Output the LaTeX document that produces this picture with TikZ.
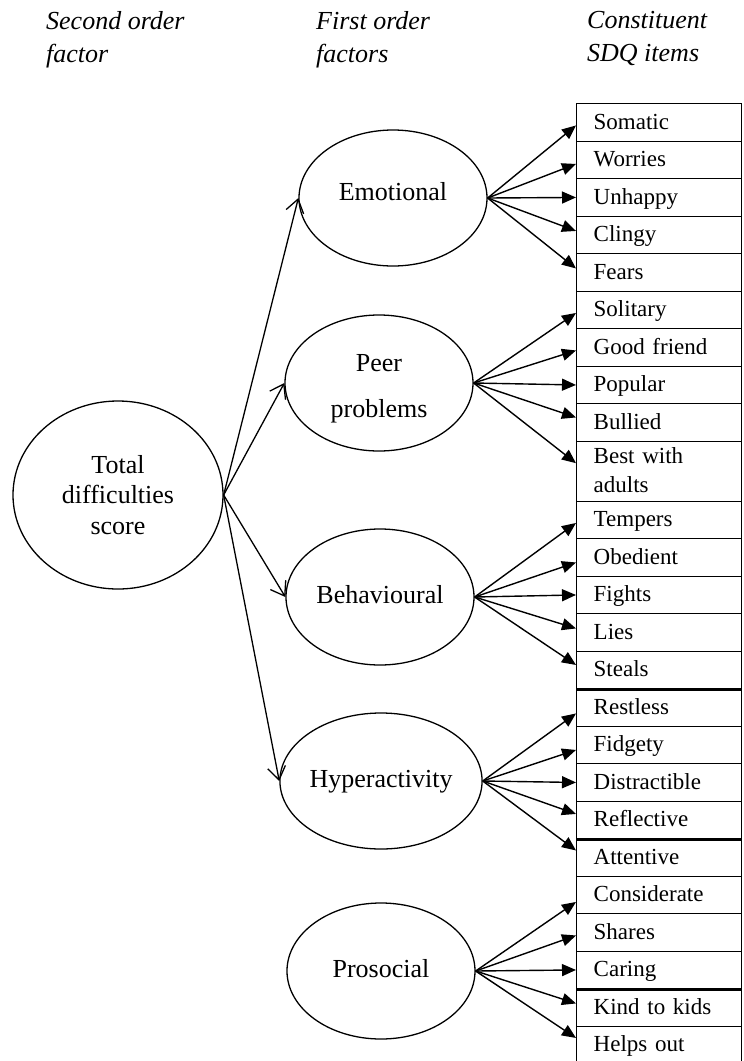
\documentclass[tikz,border=0pt]{standalone}
\usepackage{fontspec}
\setmainfont{Liberation Serif}
\usetikzlibrary{shapes.geometric,arrows.meta}

\tikzset{
  total/.style={draw, ellipse, line width=1.3pt, inner sep=0pt,
    minimum width=210pt, minimum height=188pt, align=center,
    font=\fontsize{26}{30.5}\selectfont},
  factor/.style={draw, ellipse, line width=1.3pt, inner sep=0pt,
    minimum width=188pt, minimum height=136pt, align=center,
    font=\fontsize{26}{46}\selectfont},
  oneline/.style={text height=18pt, text depth=6pt},
  itembox/.style={draw, rectangle, line width=1.4pt, anchor=north west,
    minimum width=165pt, minimum height=37.5pt, inner xsep=17pt, inner ysep=0pt,
    text width=131pt, align=left, text height=17pt, text depth=3pt,
    font=\fontsize{23}{29}\selectfont},
  heading/.style={anchor=north west, inner sep=0pt, align=left,
    font=\fontsize{26}{33}\selectfont\itshape},
  toplink/.style={line width=1.3pt, -{Straight Barb[length=13pt,width=18pt,line width=1.3pt]}},
  itemlink/.style={line width=1.4pt, -{Triangle[length=14pt,width=12pt]}},
  groupline/.style={line width=2.8pt}
}

\begin{document}
\begin{tikzpicture}[x=1pt,y=1pt]
\useasboundingbox (0,0) rectangle (744,-1061);

% column headings
\node[heading] (h1) at (46,-11) {Second order\\factor};
\node[heading] (h2) at (316,-11) {First order\\factors};
\node[heading] (h3) at (587,-11) {Constituent\\SDQ items};

% second order factor
\node[total] (tot) at (118,-495) {Total\\difficulties\\score};

% first order factors
\node[factor, oneline, text depth=14pt] (emo) at (393,-198) {Emotional};
\node[factor] (peer) at (379,-383) {\rule{0pt}{28pt}Peer\\problems};
\node[factor, oneline] (beh) at (380,-597) {Behavioural};
\node[factor, oneline] (hyp) at (381,-781) {Hyperactivity};
\node[factor, oneline] (pro) at (381,-971) {Prosocial};

% item column
\foreach \nm/\tp/\tx in {som/103/Somatic, wor/140.5/Worries, unh/178/Unhappy,
    cli/215.5/Clingy, fea/253/Fears, sol/290.5/Solitary, goo/328/Good friend,
    pop/365.5/Popular, bul/403/Bullied,
    tem/500.5/Tempers, obe/538/Obedient, fig/575.5/Fights, lie/613/Lies,
    ste/650.5/Steals, res/688/Restless, fid/725.5/Fidgety, dis/763/Distractible,
    ref/800.5/Reflective, att/838/Attentive, con/875.5/Considerate,
    sha/913/Shares, car/950.5/Caring, kin/988/Kind to kids, hel/1025.5/Helps out}
  \node[itembox] (\nm) at (576,-\tp) {\tx};
\node[itembox, minimum height=60pt, text height=17pt, text depth=32pt]
  (bes) at (576,-440.5) {Best with\\adults};

% heavier rules between some rows
\draw[groupline] (ste.south west) -- (ste.south east);
\draw[groupline] (ref.south west) -- (ref.south east);
\draw[groupline] (car.south west) -- (car.south east);

% second order to first order
\foreach \f in {emo, peer, beh, hyp}
  \draw[toplink] (tot.east) -- (\f.west);

% first order to items
\foreach \t/\s in {som/-3, wor/-4, unh/0, cli/4, fea/4}
  \draw[itemlink] (emo.east) -- ([yshift=\s pt]\t.west);
\foreach \t/\s in {sol/-3, goo/-3, pop/0, bul/5, bes/8}
  \draw[itemlink] (peer.east) -- ([yshift=\s pt]\t.west);
\foreach \t/\s in {tem/-3, obe/-5, fig/0, lie/4, ste/5}
  \draw[itemlink] (beh.east) -- ([yshift=\s pt]\t.west);
\foreach \t/\s in {res/-6, fid/-5, dis/0, ref/6, att/7}
  \draw[itemlink] (hyp.east) -- ([yshift=\s pt]\t.west);
\foreach \t/\s in {con/-7, sha/-3, car/0, kin/4, hel/7}
  \draw[itemlink] (pro.east) -- ([yshift=\s pt]\t.west);
\end{tikzpicture}
\end{document}
